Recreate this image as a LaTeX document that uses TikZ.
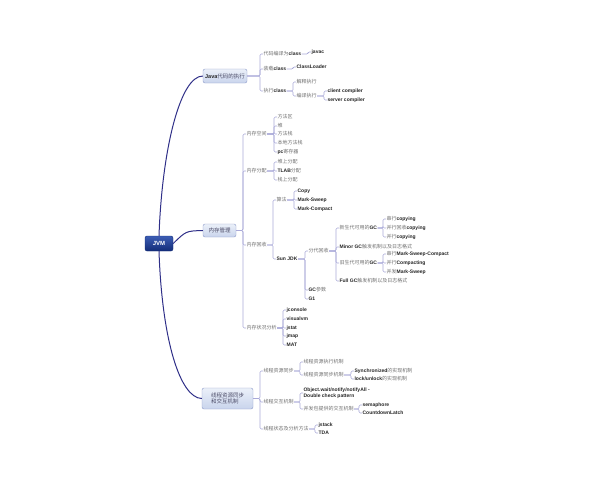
\documentclass[tikz,border=0pt]{standalone}
\usepackage{fontspec}
\setmainfont{Noto Sans CJK SC}
\newfontfamily\latinfont{Liberation Sans}
\definecolor{navyline}{HTML}{2F2F88}
\definecolor{lavline}{HTML}{A9A9D8}
\definecolor{jvmtop}{HTML}{3C5DB4}
\definecolor{jvmbot}{HTML}{132C78}
\definecolor{hubtop}{HTML}{EBF0F9}
\definecolor{hubbot}{HTML}{C9D4EC}
\definecolor{hubline}{HTML}{8C9AC8}
\definecolor{hubtext}{HTML}{4A4A66}
\definecolor{leafgray}{HTML}{6E6E6E}
\newcommand{\en}[1]{{\latinfont\bfseries\color{black!85}#1}}

\begin{document}
\begin{tikzpicture}[
  x=1pt,y=-1pt,
  leaf/.style={anchor=west,inner sep=0.4pt,font=\fontsize{5}{5.8}\selectfont,
              text=leafgray,align=left},
  hub/.style={rectangle,rounded corners=2pt,draw=hubline,top color=hubtop,
              bottom color=hubbot,text=hubtext,font=\fontsize{5.5}{6.6}\selectfont,
              inner sep=1.5pt,align=left},
  root/.style={rectangle,rounded corners=2pt,draw=jvmbot,top color=jvmtop,
              bottom color=jvmbot,text=white,font=\latinfont\bfseries\fontsize{6}{7}\selectfont,
              minimum width=28pt,minimum height=15pt},
  trunk/.style={draw=navyline,line width=1pt},
  brk/.style={draw=lavline,line width=0.6pt,rounded corners=1.2pt}
]
\useasboundingbox (0,0) rectangle (600,480);

% --- root and main branches
\node[root] (jvm)  at (159,243.5) {JVM};
\node[hub,minimum width=44pt,minimum height=14pt] (java) at (225,76) {\en{Java}代码的执行};
\node[hub,minimum width=33pt,minimum height=13pt] (mem)  at (219.5,230.5) {内存管理};
\node[hub,minimum width=51pt,minimum height=21pt] (thr)  at (227.5,398.5) {线程资源同步\\和交互机制};

\draw[trunk] (jvm.north) .. controls (162,150) and (180,76) .. (java.west);
\draw[trunk] (jvm.east) .. controls (186,231) .. (mem.west);
\draw[trunk] (jvm.south) .. controls (162,340) and (180,398) .. (thr.west);

% --- java code execution
\node[leaf] (j1)   at (263,54)  {代码编译为\en{class}};
\node[leaf] (j2)   at (263,69)  {装载\en{class}};
\node[leaf] (j3)   at (263,91)  {执行\en{class}};
\node[leaf] (j1a)  at (311,52)  {\en{javac}};
\node[leaf] (j2a)  at (296,67)  {\en{ClassLoader}};
\node[leaf] (j3a)  at (296,82)  {解释执行};
\node[leaf] (j3b)  at (296,96)  {编译执行};
\node[leaf] (j3b1) at (327,91)  {\en{client compiler}};
\node[leaf] (j3b2) at (327,100) {\en{server compiler}};

\draw[brk] (j1.west) -- ++(-3,0) |- (java.east);
\draw[brk] (j2.west) -- ++(-3,0) |- (java.east);
\draw[brk] (j3.west) -- ++(-3,0) |- (java.east);
\draw[brk] (j1a.west) -- ++(-3,0) |- (j1.east);
\draw[brk] (j2a.west) -- ++(-3,0) |- (j2.east);
\draw[brk] (j3a.west) -- ++(-3,0) |- (j3.east);
\draw[brk] (j3b.west) -- ++(-3,0) |- (j3.east);
\draw[brk] (j3b1.west) -- ++(-3,0) |- (j3b.east);
\draw[brk] (j3b2.west) -- ++(-3,0) |- (j3b.east);

% --- memory management
\node[leaf] (m1) at (246,134) {内存空间};
\node[leaf] (m2) at (246,171) {内存分配};
\node[leaf] (m3) at (246,245) {内存回收};
\node[leaf] (m4) at (246,328) {内存状况分析};

\node[leaf] (m1a) at (277,117) {方法区};
\node[leaf] (m1b) at (277,126) {堆};
\node[leaf] (m1c) at (277,134) {方法栈};
\node[leaf] (m1d) at (277,143) {本地方法栈};
\node[leaf] (m1e) at (277,152) {\en{pc}寄存器};
\node[leaf] (m2a) at (277,162) {堆上分配};
\node[leaf] (m2b) at (277,171) {\en{TLAB}分配};
\node[leaf] (m2c) at (277,180) {栈上分配};

\node[leaf] (alg)  at (276,200) {算法};
\node[leaf] (sun)  at (276,259) {\en{Sun JDK}};
\node[leaf] (alg1) at (297,191) {\en{Copy}};
\node[leaf] (alg2) at (297,200) {\en{Mark-Sweep}};
\node[leaf] (alg3) at (297,209) {\en{Mark-Compact}};
\node[leaf] (sun1) at (308,251) {分代回收};
\node[leaf] (sun2) at (308,290) {\en{GC}参数};
\node[leaf] (sun3) at (308,299) {\en{G1}};

\node[leaf] (gen1)  at (339,228) {新生代可用的\en{GC}};
\node[leaf] (gen2)  at (339,247) {\en{Minor GC}触发机制以及日志格式};
\node[leaf] (gen3)  at (339,263) {旧生代可用的\en{GC}};
\node[leaf] (gen4)  at (339,281) {\en{Full GC}触发机制以及日志格式};
\node[leaf] (gen1a) at (386,219) {串行\en{copying}};
\node[leaf] (gen1b) at (386,228) {并行回收\en{copying}};
\node[leaf] (gen1c) at (386,237) {并行\en{copying}};
\node[leaf] (gen3a) at (386,254) {串行\en{Mark-Sweep-Compact}};
\node[leaf] (gen3b) at (386,263) {并行\en{Compacting}};
\node[leaf] (gen3c) at (386,272) {并发\en{Mark-Sweep}};

\node[leaf] (m4a) at (286,310) {\en{jconsole}};
\node[leaf] (m4b) at (286,319) {\en{visualvm}};
\node[leaf] (m4c) at (286,328) {\en{jstat}};
\node[leaf] (m4d) at (286,336) {\en{jmap}};
\node[leaf] (m4e) at (286,345) {\en{MAT}};

\draw[brk] (m1.west) -- ++(-3,0) |- (mem.east);
\draw[brk] (m2.west) -- ++(-3,0) |- (mem.east);
\draw[brk] (m3.west) -- ++(-3,0) |- (mem.east);
\draw[brk] (m4.west) -- ++(-3,0) |- (mem.east);
\draw[brk] (m1a.west) -- ++(-3,0) |- (m1.east);
\draw[brk] (m1b.west) -- ++(-3,0) |- (m1.east);
\draw[brk] (m1c.west) -- ++(-3,0) |- (m1.east);
\draw[brk] (m1d.west) -- ++(-3,0) |- (m1.east);
\draw[brk] (m1e.west) -- ++(-3,0) |- (m1.east);
\draw[brk] (m2a.west) -- ++(-3,0) |- (m2.east);
\draw[brk] (m2b.west) -- ++(-3,0) |- (m2.east);
\draw[brk] (m2c.west) -- ++(-3,0) |- (m2.east);
\draw[brk] (alg.west) -- ++(-3,0) |- (m3.east);
\draw[brk] (sun.west) -- ++(-3,0) |- (m3.east);
\draw[brk] (alg1.west) -- ++(-3,0) |- (alg.east);
\draw[brk] (alg2.west) -- ++(-3,0) |- (alg.east);
\draw[brk] (alg3.west) -- ++(-3,0) |- (alg.east);
\draw[brk] (sun1.west) -- ++(-3,0) |- (sun.east);
\draw[brk] (sun2.west) -- ++(-3,0) |- (sun.east);
\draw[brk] (sun3.west) -- ++(-3,0) |- (sun.east);
\draw[brk] (gen1.west) -- ++(-3,0) |- (sun1.east);
\draw[brk] (gen2.west) -- ++(-3,0) |- (sun1.east);
\draw[brk] (gen3.west) -- ++(-3,0) |- (sun1.east);
\draw[brk] (gen4.west) -- ++(-3,0) |- (sun1.east);
\draw[brk] (gen1a.west) -- ++(-3,0) |- (gen1.east);
\draw[brk] (gen1b.west) -- ++(-3,0) |- (gen1.east);
\draw[brk] (gen1c.west) -- ++(-3,0) |- (gen1.east);
\draw[brk] (gen3a.west) -- ++(-3,0) |- (gen3.east);
\draw[brk] (gen3b.west) -- ++(-3,0) |- (gen3.east);
\draw[brk] (gen3c.west) -- ++(-3,0) |- (gen3.east);
\draw[brk] (m4a.west) -- ++(-3,0) |- (m4.east);
\draw[brk] (m4b.west) -- ++(-3,0) |- (m4.east);
\draw[brk] (m4c.west) -- ++(-3,0) |- (m4.east);
\draw[brk] (m4d.west) -- ++(-3,0) |- (m4.east);
\draw[brk] (m4e.west) -- ++(-3,0) |- (m4.east);

% --- threads
\node[leaf] (t1)   at (263,371) {线程资源同步};
\node[leaf] (t2)   at (263,402) {线程交互机制};
\node[leaf] (t3)   at (263,429) {线程状态及分析方法};
\node[leaf] (t1a)  at (303,362) {线程资源执行机制};
\node[leaf] (t1b)  at (303,375) {线程资源同步机制};
\node[leaf] (t1b1) at (354,371) {\en{Synchronized}的实现机制};
\node[leaf] (t1b2) at (354,379) {\en{lock/unlock}的实现机制};
\node[leaf] (t2a)  at (303,393) {\en{Object.wait/notify/notifyAll -}\\\en{Double check pattern}};
\node[leaf] (t2b)  at (303,409) {并发包提供的交互机制};
\node[leaf] (t2b1) at (362,405) {\en{semaphore}};
\node[leaf] (t2b2) at (362,413) {\en{CountdownLatch}};
\node[leaf] (t3a)  at (318,425) {\en{jstack}};
\node[leaf] (t3b)  at (318,433) {\en{TDA}};

\draw[brk] (t1.west) -- ++(-3,0) |- (thr.east);
\draw[brk] (t2.west) -- ++(-3,0) |- (thr.east);
\draw[brk] (t3.west) -- ++(-3,0) |- (thr.east);
\draw[brk] (t1a.west) -- ++(-3,0) |- (t1.east);
\draw[brk] (t1b.west) -- ++(-3,0) |- (t1.east);
\draw[brk] (t1b1.west) -- ++(-3,0) |- (t1b.east);
\draw[brk] (t1b2.west) -- ++(-3,0) |- (t1b.east);
\draw[brk] (t2a.west) -- ++(-3,0) |- (t2.east);
\draw[brk] (t2b.west) -- ++(-3,0) |- (t2.east);
\draw[brk] (t2b1.west) -- ++(-3,0) |- (t2b.east);
\draw[brk] (t2b2.west) -- ++(-3,0) |- (t2b.east);
\draw[brk] (t3a.west) -- ++(-3,0) |- (t3.east);
\draw[brk] (t3b.west) -- ++(-3,0) |- (t3.east);
\end{tikzpicture}
\end{document}
